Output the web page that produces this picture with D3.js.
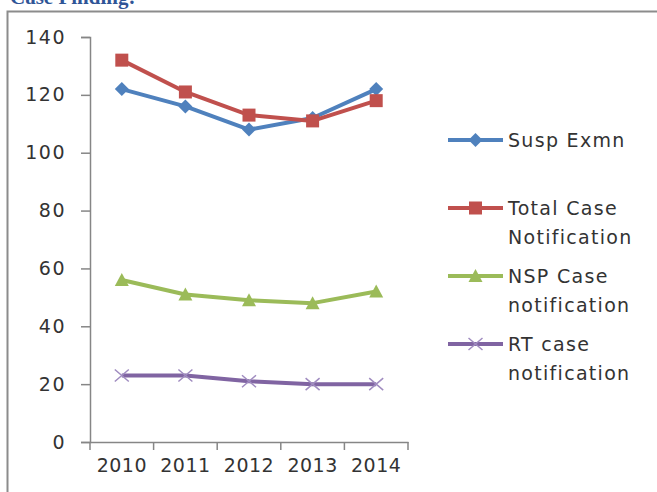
<!DOCTYPE html>
<html><head><meta charset="utf-8">
<script src="https://cdn.jsdelivr.net/npm/d3@7"></script>
<style>
html,body{margin:0;padding:0;background:#fff;}
svg{display:block;}
</style></head>
<body>
<svg id="chart" width="657" height="492"></svg>
<script>
const years = ["2010","2011","2012","2013","2014"];
const seriesNames = ["Susp Exmn","Total Case Notification","NSP Case notification","RT case notification"];
const suspExmn = [122,116,108,112,122];
const totalCase = [132,121,113,111,118];
const nspCase = [56,51,49,48,52];
const rtCase = [23,23,21,20,20];
const yTicks = [0,20,40,60,80,100,120,140];
const legendLines = [["Susp Exmn"],["Total Case","Notification"],["NSP Case","notification"],["RT case","notification"]];

const colors = ["#4F81BD","#C0504D","#9BBB59","#8064A2"];
const markers = ["diamond","square","triangle","x"];
const data = [suspExmn,totalCase,nspCase,rtCase];

const svg = d3.select("#chart");
const font = "'DejaVu Sans', Verdana, sans-serif";

// title (cropped at top, as in the reference)
svg.append("text").attr("x",10).attr("y",4)
  .attr("font-family","'Liberation Serif', 'Times New Roman', serif")
  .attr("font-weight","bold").attr("font-size",21).attr("fill","#2F5597")
  .text("Case Finding:");

// frame
svg.append("path").attr("d","M7.5,492 V11.5 H657").attr("fill","none")
  .attr("stroke","#8c8c8c").attr("stroke-width",2);

const m = {left:90, top:37, right:408, bottom:442};
const x = d3.scaleBand().domain(years).range([m.left,m.right]);
const y = d3.scaleLinear().domain([0,140]).range([m.bottom,m.top]);

// y axis
const ya = svg.append("g").attr("transform",`translate(${m.left},0)`)
  .call(d3.axisLeft(y).tickValues(yTicks).tickSize(9).tickPadding(15));
ya.select(".domain").attr("stroke","#868686").attr("stroke-width",1.5);
ya.selectAll(".tick line").attr("stroke","#868686").attr("stroke-width",1.5);
ya.selectAll("text").attr("font-family",font).attr("font-size",19).attr("fill","#333")
  .attr("letter-spacing","1.5px");

// x axis
const xa = svg.append("g").attr("transform",`translate(0,${m.bottom})`)
  .call(d3.axisBottom(x).tickSize(0).tickPadding(17));
xa.select(".domain").attr("stroke","#868686").attr("stroke-width",1.5);
xa.selectAll(".tick line").remove();
xa.selectAll("text").attr("font-family",font).attr("font-size",19).attr("fill","#333")
  .attr("letter-spacing","0.5px");
const bounds = years.map(yr=>x(yr)).concat([m.right]);
xa.selectAll(".xt").data(bounds).enter().append("line").attr("class","xt")
  .attr("x1",d=>d).attr("x2",d=>d).attr("y1",0).attr("y2",8)
  .attr("stroke","#868686").attr("stroke-width",1.5);

function drawMarker(g, type, color, cx, cy){
  if(type==="diamond"){
    g.append("path").attr("d",`M${cx},${cy-7}L${cx+7},${cy}L${cx},${cy+7}L${cx-7},${cy}Z`).attr("fill",color);
  } else if(type==="square"){
    g.append("rect").attr("x",cx-6.5).attr("y",cy-6.5).attr("width",13).attr("height",13).attr("fill",color);
  } else if(type==="triangle"){
    g.append("path").attr("d",`M${cx},${cy-7}L${cx+7},${cy+6}L${cx-7},${cy+6}Z`).attr("fill",color);
  } else {
    g.append("path").attr("d",`M${cx-7},${cy-6}L${cx+7},${cy+6}M${cx-7},${cy+6}L${cx+7},${cy-6}`)
      .attr("stroke","#A08CC0").attr("stroke-width",1.5).attr("fill","none");
  }
}

const line = d3.line().x((d,i)=>x(years[i])+x.bandwidth()/2).y(d=>y(d));
data.forEach((vals,si)=>{
  const g = svg.append("g");
  g.append("path").attr("d",line(vals)).attr("fill","none")
    .attr("stroke",colors[si]).attr("stroke-width",4).attr("stroke-linejoin","round");
  vals.forEach((v,i)=>drawMarker(g,markers[si],colors[si],x(years[i])+x.bandwidth()/2,y(v)));
});

// legend
const legY = [140,208,276,344];
legendLines.forEach((lines,i)=>{
  const g = svg.append("g");
  g.append("line").attr("x1",448).attr("x2",503).attr("y1",legY[i]).attr("y2",legY[i])
    .attr("stroke",colors[i]).attr("stroke-width",4);
  drawMarker(g,markers[i],colors[i],475.5,legY[i]);
  lines.forEach((t,j)=>{
    g.append("text").attr("x",508).attr("y",legY[i]+j*29).attr("dy","0.35em")
      .attr("font-family",font).attr("font-size",19).attr("fill","#333")
      .attr("letter-spacing","1.3px").text(t);
  });
});
</script>
</body></html>
